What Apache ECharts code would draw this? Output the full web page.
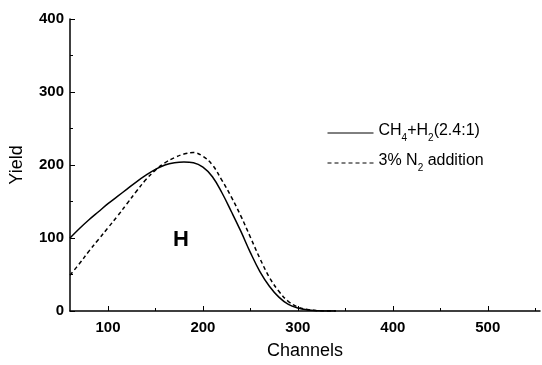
<!DOCTYPE html>
<html>
<head>
<meta charset="utf-8">
<script src="https://cdn.jsdelivr.net/npm/echarts@6/dist/echarts.min.js"></script>
<style>html,body{margin:0;padding:0;background:#fff}#c{width:542px;height:365px}</style>
</head>
<body>
<div id="c"></div>
<script>
const channels = [60,70,80,90,100,110,120,130,140,150,160,170,180,190,200,210,220,230,240,250,260,270,280,290,300,310,320,330,340];
const yieldCH4H2 = [100,113,125,136,147,157,167,177,186,194,200,203,204,203,197,184,162,136,109,80,54,34,19,9,4,1.5,0.5,0,0];
const yieldN2 = [49,65,82,98,114,130,147,164,180,193,203,210,215,217,212,200,179,156,130,101,72,46,27,13,5.5,2,0.5,0,0];
const seriesNames = ['CH4+H2(2.4:1)', '3% N2 addition'];
const xTickLabels = [100,200,300,400,500];
const xMinorTicks = [150,250,350,450,550];
const peakLabel = 'H';

const chart = echarts.init(document.getElementById('c'), null, {renderer:'canvas'});
const pair = (xs, ys) => xs.map((x,i)=>[x, ys[i]]);
const font = 'Liberation Sans, Arial, Helvetica, sans-serif';
const richName = {
  'CH4+H2(2.4:1)': '{t|CH}{s|4}{t|+H}{s|2}{t|(2.4:1)}',
  '3% N2 addition': '{t|3% N}{s|2}{t| addition}'
};
chart.setOption({
  animation:false,
  backgroundColor:'#fff',
  grid:{left:69, right:2, top:19, bottom:48.5, containLabel:false},
  xAxis:[{
    type:'value', min:60, max:555,
    name:'Channels', nameLocation:'middle', nameGap:31,
    nameTextStyle:{color:'#000', fontSize:18, fontFamily:font},
    axisLine:{show:true, onZero:false, lineStyle:{color:'#000', width:1.5}},
    axisTick:{show:true, inside:true, length:5, customValues:xTickLabels, lineStyle:{color:'#000', width:1}},
    axisLabel:{show:true, customValues:xTickLabels, color:'#000', fontSize:15, fontWeight:'bold', fontFamily:font, margin:9},
    splitLine:{show:false}
  },{
    type:'value', min:60, max:555, position:'bottom',
    axisLine:{show:false},
    axisTick:{show:true, inside:true, length:3, customValues:xMinorTicks, lineStyle:{color:'#000', width:1}},
    axisLabel:{show:false},
    splitLine:{show:false}
  }],
  yAxis:{
    type:'value', min:0, max:400, interval:100,
    name:'Yield', nameLocation:'middle', nameGap:44, nameRotate:90,
    nameTextStyle:{color:'#000', fontSize:18, fontFamily:font},
    axisLine:{show:true, lineStyle:{color:'#000', width:1.5}},
    axisTick:{show:true, inside:true, length:5, lineStyle:{color:'#000', width:1}},
    minorTick:{show:true, splitNumber:2, length:3, lineStyle:{color:'#000'}},
    axisLabel:{color:'#000', fontSize:15, fontWeight:'bold', fontFamily:font, margin:6},
    splitLine:{show:false}
  },
  legend:{
    orient:'vertical', left:322, top:118, itemGap:10, itemWidth:46, itemHeight:14,
    data:seriesNames,
    itemStyle:{opacity:0, color:'transparent', borderColor:'transparent'},
    lineStyle:{width:1},
    formatter:(n)=>richName[n] || n,
    textStyle:{
      color:'#000', fontFamily:font,
      rich:{
        t:{fontSize:16, color:'#000', fontFamily:font, lineHeight:20, verticalAlign:'top'},
        s:{fontSize:10, color:'#000', fontFamily:font, lineHeight:20, verticalAlign:'bottom', padding:[9,0,0,0]}
      }
    }
  },
  graphic:[{
    type:'text', left:173, top:229,
    style:{text:peakLabel, fill:'#000', font:'bold 22px Liberation Sans, Arial, sans-serif'}
  }],
  series:[{
    name:seriesNames[0], type:'line', data:pair(channels, yieldCH4H2), smooth:0.4,
    symbol:'none', lineStyle:{color:'#000', width:1.5, type:'solid'}, itemStyle:{color:'#000'}
  },{
    name:seriesNames[1], type:'line', data:pair(channels, yieldN2), smooth:0.4,
    symbol:'none', lineStyle:{color:'#000', width:1.5, type:[4,3]}, itemStyle:{color:'#000'}
  }]
});
</script>
</body>
</html>
